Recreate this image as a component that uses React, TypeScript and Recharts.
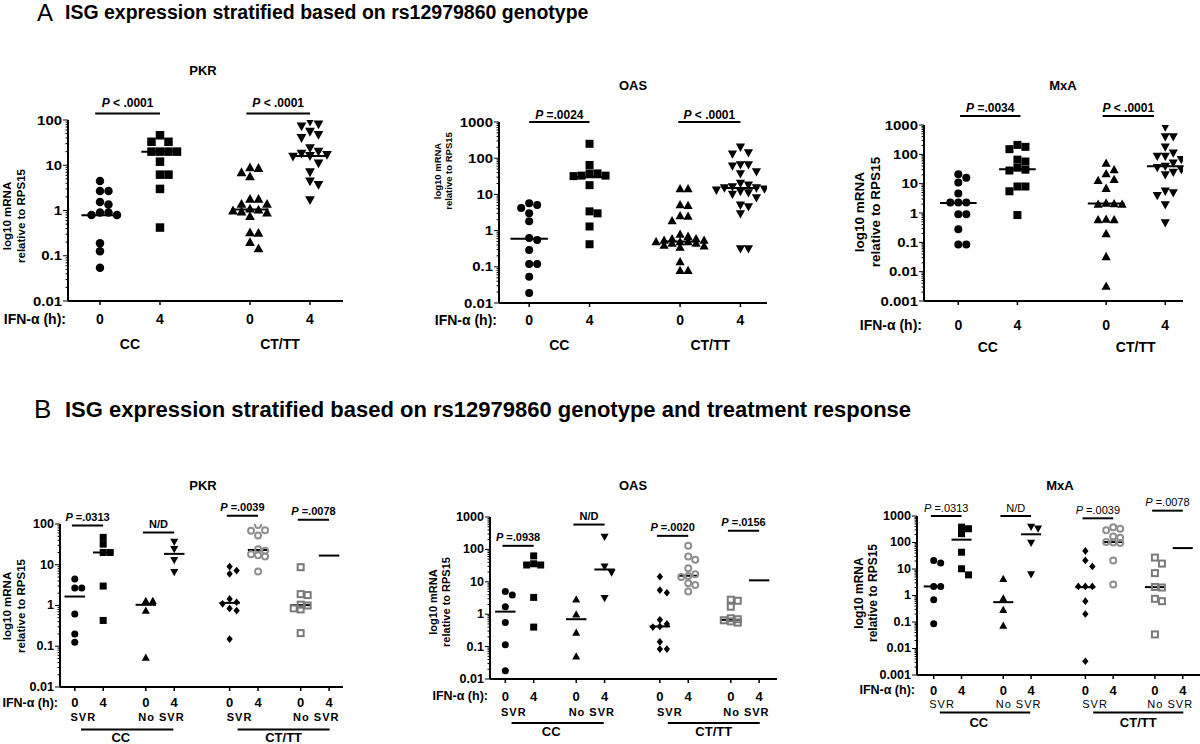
import React from "react";
import { ScatterChart, Scatter, XAxis, YAxis, ReferenceLine } from "recharts";

const FONT = '"Liberation Sans", Arial, Helvetica, sans-serif';
const GREY = "#8f8f8f";
const GREY_DARK = "#7a7a7a";

// axis labels
const HOURS_A = ["0", "4", "0", "4"];
const HOURS_B = ["0", "4", "0", "4", "0", "4", "0", "4"];
const GENOTYPES = ["CC", "CT/TT"];
const RESPONSES = ["SVR", "No SVR", "SVR", "No SVR"];
const Y_2_DEC = ["0.01", "0.1", "1", "10", "100"];
const Y_3_DEC = ["0.01", "0.1", "1", "10", "100", "1000"];
const Y_4_DEC = ["0.001", "0.01", "0.1", "1", "10", "100", "1000"];

// ---- A: stratified by genotype ----
const aPkrCc0 = [4.5, 2.7, 2.7, 1.55, 1.35, 0.9, 0.9, 0.8, 0.8, 0.19, 0.125, 0.054];
const aPkrCc4 = [46, 33, 33, 20, 20, 20, 20, 12, 6.2, 6.2, 3.0, 0.42];
const aPkrCt0 = [9, 8.7, 7, 5.7, 1.8, 1.8, 1.4, 1.4, 1.1, 1.05, 1.0, 0.95, 0.9, 0.75, 0.33, 0.32, 0.2, 0.145];
const aPkrCt4 = [92, 80, 72, 55, 47, 40, 24, 20, 18, 17, 16, 15.5, 11, 7, 4.4, 3.7, 1.7];
const aPkrMedians = [0.79, 20, 1.05, 16];
const aPkrP = ["P < .0001", "P < .0001"];

const aOasCc0 = [5.7, 5.1, 4.2, 3.0, 1.8, 0.62, 0.55, 0.29, 0.12, 0.12, 0.053, 0.019];
const aOasCc4 = [250, 65, 38, 38, 33, 33, 32, 18, 3.4, 3.0, 1.3, 0.42];
const aOasCt0 = [14.5, 14.5, 5.2, 5.0, 2.6, 2.5, 1.9, 0.8, 0.7, 0.6, 0.6, 0.55, 0.55, 0.5, 0.5, 0.5, 0.45, 0.45, 0.4, 0.38, 0.35, 0.14, 0.08, 0.08];
const aOasCt4 = [200, 140, 130, 65, 65, 60, 42, 37, 20, 18, 16, 15, 15, 14, 13, 12, 11, 10, 8, 5, 4.5, 2.9, 0.31, 0.31];
const aOasMedians = [0.6, 30, 0.5, 15];
const aOasP = ["P =.0024", "P < .0001"];

const aMxaCc0 = [21, 16, 11, 4.6, 2.3, 2.3, 2.3, 0.9, 0.9, 0.28, 0.085, 0.085];
const aMxaCc4 = [210, 180, 150, 66, 57, 35, 30, 28, 8, 8, 5.5, 0.85];
const aMxaCt0 = [50, 30, 22, 14, 13, 7, 2.2, 2.1, 2.0, 2.0, 0.62, 0.6, 0.6, 0.2, 0.033, 0.0032];
const aMxaCt4 = [850, 390, 390, 175, 110, 85, 85, 66, 50, 39, 35, 30, 24, 20, 5.5, 4.8, 3.9, 1.9, 0.46];
const aMxaMedians = [2.2, 31, 2.1, 39];
const aMxaP = ["P =.0034", "P < .0001"];

// ---- B: stratified by genotype and treatment response ----
const bPkr = [
  [4.5, 2.7, 2.7, 0.62, 0.2, 0.126],
  [47, 32, 20, 20, 3.0, 0.43],
  [1.3, 1.3, 0.75, 0.053],
  [36, 24, 13, 6.6],
  [9, 7.2, 6, 1.45, 1.2, 1.1, 0.85, 0.75, 0.15],
  [95, 70, 68, 52, 24, 22, 18, 17, 16, 6.8],
  [8.7, 1.9, 1.8, 1.05, 1.0, 0.85, 0.8, 0.21],
  [],
];
const bPkrMedians = [1.66, 20, 1.04, 18.5, 1.16, 23, 1.02, 16.8];
const bPkrP = ["P =.0313", "N/D", "P =.0039", "P =.0078"];

const bOas = [
  [5, 3.9, 1.7, 0.55, 0.114, 0.018],
  [63, 36, 33, 33, 3.3, 0.4],
  [2.9, 1.0, 0.27, 0.05],
  [243, 29, 19, 3.1],
  [14.4, 5.5, 4.6, 0.67, 0.5, 0.42, 0.4, 0.14, 0.084, 0.084],
  [130, 60, 48, 26, 17, 15, 14, 9, 8, 5],
  [2.8, 2.6, 1.7, 0.75, 0.7, 0.65, 0.6, 0.55],
  [],
];
const bOasMedians = [1.2, 34, 0.7, 24, 0.42, 15.4, 0.67, 11.1];
const bOasP = ["P =.0938", "N/D", "P =.0020", "P =.0156"];

const bMxa = [
  [21, 16.7, 2.2, 2.2, 0.69, 0.085],
  [380, 330, 215, 43, 10.2, 6],
  [4.3, 0.79, 0.29, 0.073],
  [385, 330, 95, 6.2],
  [48, 21, 12.5, 2.2, 2.2, 2.2, 0.61, 0.2, 0.0033],
  [380, 330, 290, 170, 150, 104, 100, 95, 21, 2.6],
  [27, 16, 7, 2.1, 2.0, 0.75, 0.61, 0.034],
  [],
];
const bMxaMedians = [2.2, 128, 0.56, 204, 2.06, 104, 2.07, 61.6];
const bMxaP = ["P =.0313", "N/D", "P =.0039", "P =.0078"];

type Kind = "circle" | "square" | "up" | "down" | "diamond" | "ocircle" | "osquare";

const KINDS_A: Kind[] = ["circle", "square", "up", "down"];
const KINDS_B: Kind[] = ["circle", "square", "up", "down", "diamond", "ocircle", "osquare", "down"];
const POS_A = [0, 1, 2.5, 3.5];
const POS_B = [0, 1, 2.5, 3.5, 5.45, 6.45, 7.95, 8.95];

type Spec = {
  title: string;
  titleX: number;
  titleY: number;
  yLab: [number, number, number];
  left: number;
  top: number;
  right: number;
  bottom: number;
  xDomain: [number, number];
  yLabels: string[];
  values: number[][];
  medians: number[];
  kinds: Kind[];
  pos: number[];
  hours: string[];
  pTexts: string[];
  pBars: [number, number, number][];
  pGap: number;
  pSize: number;
  pWeight: number;
  respAt?: number[];
  respWeight?: number;
  genoAt: number[];
  genoBars?: [number, number][];
  rows: { hour: number; resp?: number; bar?: number; geno: number };
  medianHalf: number;
  mark: number;
  tickSize: number;
  tickStretch: number;
  hourSize: number;
  genoSize: number;
  ifnSize: number;
};

function marker(kind: Kind, size: number) {
  return (props: any) => {
    const { cx, cy } = props;
    if (cx == null || cy == null) return <g />;
    const r = size / 2;
    const h = r * 1.15;
    switch (kind) {
      case "circle":
        return <circle cx={cx} cy={cy} r={r} fill="#000" />;
      case "square":
        return <rect x={cx - r} y={cy - r} width={size} height={size} fill="#000" />;
      case "up":
        return <polygon points={`${cx},${cy - h} ${cx + h},${cy + h * 0.8} ${cx - h},${cy + h * 0.8}`} fill="#000" />;
      case "down":
        return <polygon points={`${cx},${cy + h} ${cx + h},${cy - h * 0.8} ${cx - h},${cy - h * 0.8}`} fill="#000" />;
      case "diamond":
        return <polygon points={`${cx},${cy - r * 1.1} ${cx + r * 0.9},${cy} ${cx},${cy + r * 1.1} ${cx - r * 0.9},${cy}`} fill="#000" />;
      case "ocircle":
        return <circle cx={cx} cy={cy} r={r - 0.5} fill="none" stroke={GREY} strokeWidth={2} />;
      default:
        return <rect x={cx - r + 0.5} y={cy - r + 0.5} width={size - 1} height={size - 1} fill="none" stroke={GREY_DARK} strokeWidth={2} />;
    }
  };
}

// simple beeswarm: spread points sideways so they don't sit on each other
function swarm(values: number[], center: number, diam: number, unitPx: number, decadePx: number, maxPx: number) {
  const placed: { dx: number; py: number }[] = [];
  const out: { x: number; y: number }[] = [];
  const order = values.map((_, i) => i).sort((a, b) => values[b] - values[a]);
  const steps = Math.max(0, Math.floor(maxPx / diam));
  for (const i of order) {
    const py = Math.log10(values[i]) * decadePx;
    let best = 0;
    let bestDist = -1;
    for (let n = 0; n <= steps * 2; n++) {
      const cand = n === 0 ? 0 : (n % 2 ? 1 : -1) * Math.ceil(n / 2) * diam;
      let d = Infinity;
      for (const p of placed) d = Math.min(d, Math.hypot(p.dx - cand, p.py - py));
      if (d >= diam * 0.9) {
        best = cand;
        bestDist = d;
        break;
      }
      if (d > bestDist) {
        bestDist = d;
        best = cand;
      }
    }
    placed.push({ dx: best, py });
    out[i] = { x: center + best / unitPx, y: values[i] };
  }
  return out;
}

function Panel({ s }: { s: Spec }) {
  const YW = 60;
  const T = 50;
  const R = 6;
  const XH = 70;
  const plotW = s.right - s.left;
  const plotH = s.bottom - s.top;
  const W = YW + plotW + R;
  const H = T + plotH + XH;
  const yMajor = s.yLabels.map(Number);
  const yDomain: [number, number] = [yMajor[0], yMajor[yMajor.length - 1]];
  const minor: number[] = [];
  for (let i = 0; i < yMajor.length - 1; i++) for (let k = 2; k <= 9; k++) minor.push(yMajor[i] * k);
  const unitPx = plotW / (s.xDomain[1] - s.xDomain[0]);
  const decadePx = plotH / Math.log10(yDomain[1] / yDomain[0]);
  const respAt = s.respAt ?? [];
  const xTicks = [...s.pos, ...respAt, ...s.genoAt];
  const txt = { fontFamily: FONT, fill: "#000" };

  const xTick = (props: any) => {
    const { x, y, payload } = props;
    const v = payload.value;
    const ci = s.pos.indexOf(v);
    if (ci >= 0)
      return (
        <g>
          <line x1={x} x2={x} y1={y} y2={y + 4} stroke="#000" strokeWidth={1.5} />
          <text x={x} y={y + s.rows.hour} textAnchor="middle" dominantBaseline="central" fontSize={s.hourSize} fontWeight={700} {...txt}>
            {s.hours[ci]}
          </text>
        </g>
      );
    const ri = respAt.indexOf(v);
    if (ri >= 0)
      return (
        <text x={x} y={y + (s.rows.resp ?? 0)} textAnchor="middle" dominantBaseline="central" fontSize={11} fontWeight={s.respWeight ?? 700} letterSpacing={1} {...txt}>
          {RESPONSES[ri]}
        </text>
      );
    const gi = s.genoAt.indexOf(v);
    if (gi >= 0) {
      const bar = s.genoBars?.[gi];
      return (
        <g>
          {bar && (
            <line x1={x + (bar[0] - v) * unitPx} x2={x + (bar[1] - v) * unitPx} y1={y + (s.rows.bar ?? 0)} y2={y + (s.rows.bar ?? 0)} stroke="#000" strokeWidth={2} />
          )}
          <text x={x} y={y + s.rows.geno} textAnchor="middle" dominantBaseline="central" fontSize={s.genoSize} fontWeight={700} {...txt}>
            {GENOTYPES[gi]}
          </text>
        </g>
      );
    }
    return <g />;
  };

  const yTick = (props: any) => {
    const { x, y, payload } = props;
    const mi = yMajor.indexOf(payload.value);
    return (
      <g>
        <line x1={x - (mi >= 0 ? 5 : 2.5)} x2={x} y1={y} y2={y} stroke="#000" strokeWidth={1} />
        {mi >= 0 && (
          <text
            transform={`translate(${x - 6},${y}) scale(${s.tickStretch},1)`}
            textAnchor="end"
            dominantBaseline="central"
            fontSize={s.tickSize}
            fontWeight={700}
            {...txt}
          >
            {s.yLabels[mi]}
          </text>
        )}
      </g>
    );
  };

  const pLabel = (text: string) => (props: any) => {
    const vb = props.viewBox || {};
    const cx = (vb.x ?? 0) + (vb.width ?? 0) / 2;
    return (
      <text x={cx} y={(vb.y ?? 0) - s.pGap} textAnchor="middle" dominantBaseline="central" fontSize={s.pSize} fontWeight={s.pWeight} {...txt}>
        {text.startsWith("P") ? (
          <>
            <tspan fontStyle="italic">P</tspan>
            {text.slice(1)}
          </>
        ) : (
          text
        )}
      </text>
    );
  };

  return (
    <>
      <div style={{ position: "absolute", left: s.left - YW, top: s.top - T }}>
        <ScatterChart width={W} height={H} margin={{ top: T, right: R, left: 0, bottom: 0 }}>
          <XAxis
            type="number"
            dataKey="x"
            domain={s.xDomain}
            allowDataOverflow
            ticks={xTicks}
            interval={0}
            tick={xTick}
            tickLine={false}
            tickSize={0}
            tickMargin={0}
            axisLine={{ stroke: "#000", strokeWidth: 2 }}
            height={XH}
          />
          <YAxis
            type="number"
            dataKey="y"
            scale="log"
            domain={yDomain}
            allowDataOverflow
            ticks={[...yMajor, ...minor]}
            interval={0}
            tick={yTick}
            tickLine={false}
            tickSize={0}
            tickMargin={0}
            axisLine={{ stroke: "#000", strokeWidth: 2 }}
            width={YW}
          />
          {s.values.map((vals, i) => (
            <Scatter
              key={i}
              data={swarm(vals, s.pos[i], s.mark, unitPx, decadePx, unitPx * 0.42)}
              shape={marker(s.kinds[i], s.mark)}
              isAnimationActive={false}
            />
          ))}
          {s.medians.map((m, i) => (
            <ReferenceLine
              key={"m" + i}
              segment={[
                { x: s.pos[i] - s.medianHalf, y: m },
                { x: s.pos[i] + s.medianHalf, y: m },
              ]}
              stroke="#000"
              strokeWidth={2}
              ifOverflow="visible"
            />
          ))}
          {s.pBars.map((b, i) => (
            <ReferenceLine
              key={"p" + i}
              segment={[
                { x: b[0], y: b[2] },
                { x: b[1], y: b[2] },
              ]}
              stroke="#000"
              strokeWidth={2}
              ifOverflow="visible"
              label={pLabel(s.pTexts[i])}
            />
          ))}
        </ScatterChart>
      </div>
      <div style={{ position: "absolute", left: s.titleX, top: s.titleY, transform: "translate(-50%,-50%)", fontFamily: FONT, fontWeight: 700, fontSize: 13, whiteSpace: "nowrap" }}>
        {s.title}
      </div>
      <div
        style={{
          position: "absolute",
          left: s.yLab[0],
          top: s.yLab[1],
          transform: "translate(-50%,-50%) rotate(-90deg)",
          fontFamily: FONT,
          fontWeight: 700,
          fontSize: s.yLab[2],
          lineHeight: 1.2,
          textAlign: "center",
          whiteSpace: "nowrap",
        }}
      >
        log10 mRNA
        <br />
        relative to RPS15
      </div>
      <div style={{ position: "absolute", left: s.left - 2, top: s.bottom + s.rows.hour, transform: "translate(-100%,-50%)", fontFamily: FONT, fontWeight: 700, fontSize: s.ifnSize, whiteSpace: "nowrap" }}>
        IFN-α (h):
      </div>
    </>
  );
}

const baseA = {
  pos: POS_A,
  hours: HOURS_A,
  kinds: KINDS_A,
  genoAt: [0.5, 3.0],
  medianHalf: 0.31,
  mark: 8.5,
  tickSize: 13,
  tickStretch: 1.15,
  hourSize: 14,
  genoSize: 14,
  ifnSize: 14,
  pSize: 12,
  pWeight: 700,
};

const baseB = {
  pos: POS_B,
  hours: HOURS_B,
  kinds: KINDS_B,
  respAt: [0.3, 3.05, 5.8, 8.5],
  genoAt: [1.62, 7.35],
  genoBars: [
    [0.22, 3.47],
    [5.73, 8.97],
  ] as [number, number][],
  medianHalf: 0.36,
  mark: 7,
  tickSize: 12,
  tickStretch: 1.05,
  hourSize: 13,
  genoSize: 13,
  ifnSize: 12.5,
  pSize: 11,
  pGap: 8.5,
};

const bBars = (ys: number[]): [number, number, number][] => [
  [-0.1, 1, ys[0]],
  [2.4, 3.5, ys[1]],
  [5.35, 6.45, ys[2]],
  [7.85, 8.95, ys[3]],
];

const panels: Spec[] = [
  {
    ...baseA,
    title: "PKR",
    titleX: 203,
    titleY: 70,
    yLab: [15, 216, 11.5],
    left: 68,
    top: 120,
    right: 343,
    bottom: 301,
    xDomain: [-0.533, 4.05],
    yLabels: Y_2_DEC,
    values: [aPkrCc0, aPkrCc4, aPkrCt0, aPkrCt4],
    medians: aPkrMedians,
    pTexts: aPkrP,
    pBars: [
      [-0.08, 1, 140],
      [2.44, 3.5, 140],
    ],
    pGap: 10,
    rows: { hour: 17.5, geno: 42.5 },
  },
  {
    ...baseA,
    title: "OAS",
    titleX: 633,
    titleY: 85,
    yLab: [442.5, 171, 9.5],
    left: 499,
    top: 122,
    right: 767,
    bottom: 303,
    xDomain: [-0.5, 3.94],
    yLabels: Y_3_DEC,
    values: [aOasCc0, aOasCc4, aOasCt0, aOasCt4],
    medians: aOasMedians,
    pTexts: aOasP,
    pBars: [
      [0, 1, 1000],
      [2.47, 3.5, 1000],
    ],
    pGap: 7,
    mark: 8,
    rows: { hour: 17, geno: 42 },
  },
  {
    ...baseA,
    title: "MxA",
    titleX: 1063,
    titleY: 85,
    yLab: [867.5, 212, 13.5],
    left: 924,
    top: 125,
    right: 1183,
    bottom: 301,
    xDomain: [-0.58, 3.8],
    yLabels: Y_4_DEC,
    values: [aMxaCc0, aMxaCc4, aMxaCt0, aMxaCt4],
    medians: aMxaMedians,
    pTexts: aMxaP,
    pBars: [
      [0.03, 1.05, 2030],
      [2.44, 3.31, 2030],
    ],
    pGap: 8,
    mark: 8,
    rows: { hour: 24, geno: 46 },
  },
  {
    ...baseB,
    title: "PKR",
    titleX: 203,
    titleY: 485,
    yLab: [15, 606, 11.5],
    left: 60,
    top: 524,
    right: 343,
    bottom: 687,
    xDomain: [-0.52, 9.44],
    yLabels: Y_2_DEC,
    values: bPkr,
    medians: bPkrMedians,
    pTexts: bPkrP,
    pBars: bBars([92, 62, 160, 127]),
    pWeight: 700,
    respWeight: 700,
    rows: { hour: 15.5, resp: 30, bar: 42.5, geno: 50.5 },
  },
  {
    ...baseB,
    title: "OAS",
    titleX: 633,
    titleY: 485,
    yLab: [439.5, 602, 11],
    left: 490,
    top: 517,
    right: 777,
    bottom: 679,
    xDomain: [-0.54, 9.58],
    yLabels: Y_3_DEC,
    values: bOas,
    medians: bOasMedians,
    pTexts: bOasP,
    pBars: bBars([129, 584, 262, 374]),
    pWeight: 700,
    respWeight: 700,
    rows: { hour: 17.4, resp: 32.7, bar: 44, geno: 52.4 },
  },
  {
    ...baseB,
    title: "MxA",
    titleX: 1060,
    titleY: 485,
    yLab: [865.5, 593, 12],
    left: 917,
    top: 516,
    right: 1200,
    bottom: 675,
    xDomain: [-0.6, 9.57],
    yLabels: Y_4_DEC,
    values: bMxa,
    medians: bMxaMedians,
    pTexts: bMxaP,
    pBars: bBars([1000, 1000, 818, 1590]),
    pWeight: 400,
    respWeight: 400,
    rows: { hour: 15.3, resp: 28.6, bar: 37.6, geno: 47 },
  },
];

export default function App() {
  return (
    <div style={{ position: "absolute", left: 0, top: 0, width: 1200, height: 744, background: "#fff", overflow: "hidden" }}>
      <div style={{ position: "absolute", left: 37, top: 13, transform: "translateY(-50%)", fontFamily: FONT, fontSize: 24 }}>A</div>
      <div style={{ position: "absolute", left: 65, top: 12, transform: "translateY(-50%)", fontFamily: FONT, fontWeight: 700, fontSize: 19.5, whiteSpace: "nowrap" }}>
        ISG expression stratified based on rs12979860 genotype
      </div>
      <div style={{ position: "absolute", left: 34, top: 409, transform: "translateY(-50%)", fontFamily: FONT, fontSize: 26 }}>B</div>
      <div style={{ position: "absolute", left: 65, top: 410, transform: "translateY(-50%)", fontFamily: FONT, fontWeight: 700, fontSize: 22, whiteSpace: "nowrap" }}>
        ISG expression stratified based on rs12979860 genotype and treatment response
      </div>
      {panels.map((s, i) => (
        <Panel key={i} s={s} />
      ))}
    </div>
  );
}
